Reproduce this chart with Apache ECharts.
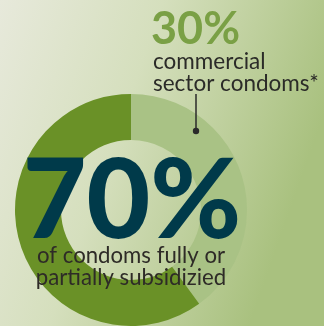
<!DOCTYPE html>
<html>
<head>
<meta charset="utf-8">
<script src="https://cdn.jsdelivr.net/npm/echarts@6/dist/echarts.min.js"></script>
<style>
html,body{margin:0;padding:0;width:324px;height:326px;overflow:hidden;}
#c{width:324px;height:326px;}
</style>
</head>
<body>
<div id="c"></div>
<script>
// Data
var sliceNames = ['commercial sector condoms', 'fully or partially subsidized'];
var arcShares = [40, 60];            // share of the ring drawn for each slice
var bigLabels = ['30%', '70%'];      // printed percentages
var commercialCaption = ['commercial', 'sector condoms*'];
var subsidizedCaption = ['of condoms fully or', 'partially subsidizied'];
var sliceColors = ['#a9c285', '#6a9127'];

var chart = echarts.init(document.getElementById('c'), null, {renderer: 'canvas'});
var font = 'Lato, "Open Sans", sans-serif';

var option = {
  animation: false,
  backgroundColor: new echarts.graphic.LinearGradient(0, 0, 1, 0.35, [
    {offset: 0, color: '#e7e9db'},
    {offset: 0.45, color: '#d5dfbd'},
    {offset: 1, color: '#a9c17f'}
  ]),
  series: [{
    type: 'pie',
    center: [131, 210],
    radius: [70, 116],
    startAngle: 90,
    clockwise: true,
    silent: true,
    label: {show: false},
    labelLine: {show: false},
    data: sliceNames.map(function (n, i) {
      return {name: n, value: arcShares[i], itemStyle: {color: sliceColors[i]}};
    })
  }],
  graphic: [
    {type: 'line', shape: {x1: 196, y1: 94, x2: 196, y2: 131}, style: {stroke: '#2a2a2a', lineWidth: 1.5}, z: 10},
    {type: 'circle', shape: {cx: 196, cy: 131, r: 3.2}, style: {fill: '#2a2a2a'}, z: 10},
    {type: 'text', x: 151, y: 29, z: 10, style: {text: bigLabels[0], font: 'bold 45px ' + font, fill: '#7aa045', align: 'left', verticalAlign: 'middle'}},
    {type: 'text', x: 153, y: 62, z: 10, style: {text: commercialCaption[0], font: '22.5px ' + font, fill: '#2b2b28', align: 'left', verticalAlign: 'middle'}},
    {type: 'text', x: 153, y: 84, z: 10, style: {text: commercialCaption[1], font: '22.5px ' + font, fill: '#2b2b28', align: 'left', verticalAlign: 'middle'}},
    {type: 'text', x: 132, y: 203, z: 10, style: {text: bigLabels[1], font: '900 110px ' + font, fill: '#003a4a', align: 'center', verticalAlign: 'middle'}},
    {type: 'text', x: 131, y: 256, z: 11, style: {text: subsidizedCaption[0], font: '22.2px ' + font, fill: '#2e2b27', align: 'center', verticalAlign: 'middle'}},
    {type: 'text', x: 131, y: 278, z: 11, style: {text: subsidizedCaption[1], font: '22.2px ' + font, fill: '#2e2b27', align: 'center', verticalAlign: 'middle'}}
  ]
};
chart.setOption(option);
</script>
</body>
</html>
